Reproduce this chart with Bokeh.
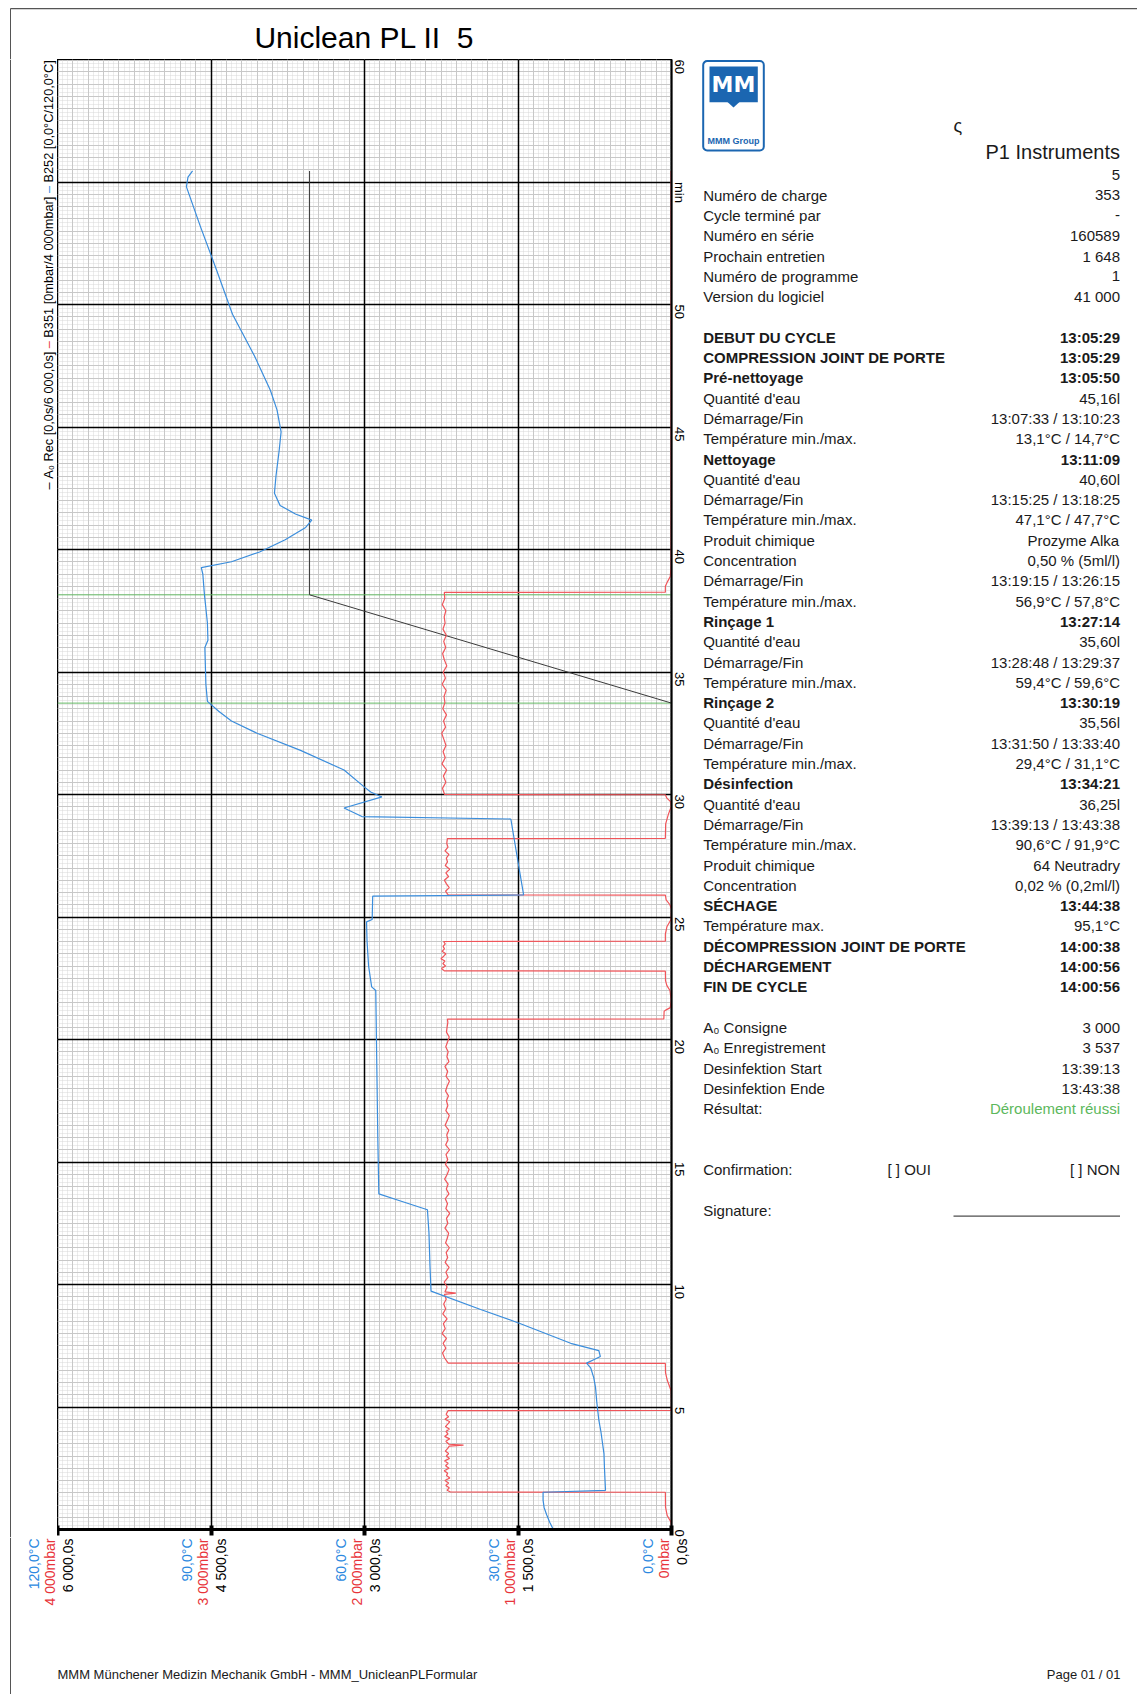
import math
from bokeh.plotting import figure
from bokeh.layouts import column, row
from bokeh.models import Range1d, LinearAxis, FixedTicker, Grid, Span
from bokeh.core.properties import value
from bokeh.embed import file_html
from bokeh.resources import INLINE

# ------------------------------------------------------------------ data
# B252 temperature (°C) against time (min)
temp_time = [0.0, 0.3, 0.6, 0.9, 1.2, 1.52, 1.6, 2.5, 3.1, 4.0, 4.46, 5.2, 5.8, 6.2, 6.6,
             6.79, 6.95, 7.06, 7.3, 7.6, 8.0, 8.4, 8.98, 9.73, 10.75, 12.1, 13.05, 13.41,
             13.7, 16.0, 19.0, 22.0, 22.15, 23.0, 24.0, 24.8, 24.9, 25.85, 25.9, 27.5, 29.0,
             29.1, 29.45, 29.9, 30.1, 30.3, 31.0, 31.8, 32.5, 33.0, 33.4, 33.8, 34.5, 36.0,
             36.3, 37.0, 38.2, 39.0, 39.26, 39.5, 39.9, 40.4, 40.9, 41.2, 41.45, 41.8, 42.3,
             43.0, 44.0, 44.8, 45.7, 46.5, 47.9, 49.6, 51.4, 53.2, 54.8, 55.2, 55.45]
temp_degc = [23.1, 23.8, 24.4, 24.9, 25.1, 25.1, 12.9, 13.1, 13.2, 13.8, 14.2, 14.6, 14.85, 15.2, 15.8,
             16.6, 15.0, 13.9, 14.2, 19.7, 24.6, 29.5, 37.3, 47.0, 47.2, 47.4, 47.7, 52.96,
             57.2, 57.4, 57.6, 57.8, 58.6, 59.2, 59.5, 59.6, 58.5, 58.4, 28.9, 30.2, 31.4,
             60.5, 64.0, 56.6, 58.8, 60.0, 64.0, 72.5, 81.0, 86.0, 88.5, 90.7, 91.0, 91.2,
             90.6, 90.7, 91.3, 91.6, 91.9, 86.0, 80.5, 75.5, 71.5, 70.3, 73.5, 76.5, 77.6,
             77.3, 76.7, 76.3, 77.1, 78.4, 81.5, 85.8, 88.9, 92.1, 94.8, 94.5, 93.6]

# B351 pressure (mbar) against time (min), one pair of lists per phase
p_idle1_t = [0.0, 0.3, 0.57, 0.91, 1.52]
p_idle1_v = [0, 3, 28, 39, 40]
p_pump1_t = [1.53, 1.6, 1.7, 1.8, 1.9, 2.0, 2.1, 2.2, 2.3, 2.4, 2.5, 2.6, 2.7, 2.8, 2.9, 3.0,
             3.1, 3.2, 3.3, 3.4, 3.44, 3.48, 3.6, 3.7, 3.8, 3.9, 4.0, 4.1, 4.2, 4.3, 4.4, 4.5,
             4.6, 4.7, 4.8, 4.85]
p_pump1_v = [1440, 1462, 1448, 1470, 1452, 1476, 1444, 1466, 1458, 1481, 1449, 1472, 1455, 1478,
             1446, 1467, 1452, 1474, 1459, 1448, 1355, 1450, 1470, 1445, 1478, 1456, 1469, 1447,
             1473, 1458, 1444, 1476, 1452, 1468, 1460, 1455]
p_idle2_t = [4.86, 5.1, 5.65, 6.1, 6.4, 6.78]
p_idle2_v = [3, 0, 2, 28, 39, 40]
p_pump2_t = [6.79, 7.0, 7.2, 7.4, 7.6, 7.8, 8.0, 8.2, 8.4, 8.6, 8.8, 9.0, 9.2, 9.4, 9.6, 9.65,
             9.7, 9.9, 10.1, 10.3, 10.5, 10.7, 10.9, 11.1, 11.3, 11.5, 11.7, 11.9, 12.1, 12.3,
             12.5, 12.7, 12.9, 13.1, 13.3, 13.5, 13.7, 13.9, 14.1, 14.3, 14.5, 14.7, 14.9, 15.1,
             15.3, 15.5, 15.7, 15.9, 16.1, 16.3, 16.5, 16.7, 16.9, 17.1, 17.3, 17.5, 17.7, 17.9,
             18.1, 18.3, 18.5, 18.7, 18.9, 19.1, 19.3, 19.5, 19.7, 19.9, 20.1, 20.3, 20.5, 20.7,
             20.83]
p_pump2_v = [1455, 1478, 1492, 1470, 1488, 1466, 1495, 1474, 1486, 1462, 1490, 1471, 1484, 1468,
             1480, 1405, 1476, 1462, 1481, 1455, 1470, 1449, 1475, 1458, 1468, 1447, 1472, 1460,
             1452, 1476, 1457, 1466, 1445, 1470, 1459, 1474, 1450, 1467, 1455, 1478, 1461, 1449,
             1473, 1458, 1469, 1446, 1471, 1456, 1464, 1451, 1475, 1460, 1448, 1470, 1457, 1466,
             1453, 1472, 1461, 1447, 1469, 1458, 1476, 1450, 1463, 1455, 1471, 1459, 1448, 1466,
             1462, 1457, 1460]
p_idle3_t = [20.84, 21.15, 21.2, 21.3, 21.6, 22.0, 22.2, 22.4, 22.79]
p_idle3_v = [50, 48, 38, 8, 2, 10, 30, 39, 40]
p_pump3_t = [22.8, 22.9, 23.0, 23.1, 23.2, 23.3, 23.4, 23.5, 23.6, 23.7, 23.8, 23.9, 24.0]
p_pump3_v = [1480, 1498, 1472, 1490, 1476, 1502, 1484, 1470, 1495, 1479, 1488, 1474, 1485]
p_idle4_t = [24.01, 24.3, 24.6, 24.9, 25.3, 25.5, 25.7, 25.89]
p_idle4_v = [40, 40, 30, 3, 0, 10, 35, 40]
p_pump4_t = [25.9, 26.05, 26.2, 26.35, 26.5, 26.65, 26.8, 26.95, 27.1, 27.25, 27.4, 27.55,
             27.7, 27.85, 28.0, 28.2]
p_pump4_v = [1455, 1472, 1448, 1466, 1480, 1452, 1470, 1445, 1474, 1459, 1467, 1450, 1476,
             1456, 1464, 1460]
p_idle5_t = [28.21, 28.8, 29.2, 29.5, 29.7, 29.85, 29.99]
p_idle5_v = [40, 38, 20, 2, 5, 30, 40]
p_pump5_t = [30.0, 30.25, 30.5, 30.75, 31.0, 31.25, 31.5, 31.75, 32.0, 32.25, 32.5, 32.75,
             33.0, 33.25, 33.5, 33.75, 34.0, 34.25, 34.5, 34.75, 35.0, 35.25, 35.5, 35.75,
             36.0, 36.25, 36.5, 36.75, 37.0, 37.25, 37.5, 37.75, 38.0, 38.25]
p_pump5_v = [1478, 1492, 1470, 1486, 1465, 1495, 1474, 1488, 1469, 1483, 1497, 1472, 1485,
             1466, 1490, 1476, 1482, 1468, 1494, 1473, 1487, 1464, 1480, 1491, 1471, 1484,
             1467, 1489, 1475, 1481, 1470, 1493, 1477, 1480]
p_idle6_t = [38.26, 38.5, 38.7, 38.9, 39.3, 55.45]
p_idle6_v = [40, 40, 25, 8, 3, 3]

# A0 record (s) against time (min)
a0_time = [0.0, 33.73, 38.15, 55.45]
a0_value = [0, 0, 3537, 3537]
# disinfection start / end (min after 13:05:29)
desinf_marks = [33.73, 38.15]

# scales and tick labels
time_ticks = [0, 5, 10, 15, 20, 25, 30, 35, 40, 45, 50, 55, 60]
temp_ticks = [0, 30, 60, 90, 120]
temp_labels = ["0,0°C", "30,0°C", "60,0°C", "90,0°C", "120,0°C"]
press_ticks = [0, 1000, 2000, 3000, 4000]
press_labels = ["0mbar", "1 000mbar", "2 000mbar", "3 000mbar", "4 000mbar"]
a0_ticks = [0, 1500, 3000, 4500, 6000]
a0_labels = ["0,0s", "1 500,0s", "3 000,0s", "4 500,0s", "6 000,0s"]

chart_title = "Uniclean PL II\u00a0 5"

# report panel
info_labels = ["", "Numéro de charge", "Cycle terminé par", "Numéro en série", "Prochain entretien",
               "Numéro de programme", "Version du logiciel", None,
               "DEBUT DU CYCLE", "COMPRESSION JOINT DE PORTE", "Pré-nettoyage", "Quantité d'eau",
               "Démarrage/Fin", "Température min./max.", "Nettoyage", "Quantité d'eau",
               "Démarrage/Fin", "Température min./max.", "Produit chimique", "Concentration",
               "Démarrage/Fin", "Température min./max.", "Rinçage 1", "Quantité d'eau",
               "Démarrage/Fin", "Température min./max.", "Rinçage 2", "Quantité d'eau",
               "Démarrage/Fin", "Température min./max.", "Désinfection", "Quantité d'eau",
               "Démarrage/Fin", "Température min./max.", "Produit chimique", "Concentration",
               "SÉCHAGE", "Température max.", "DÉCOMPRESSION JOINT DE PORTE", "DÉCHARGEMENT",
               "FIN DE CYCLE", None,
               "A₀ Consigne", "A₀ Enregistrement", "Desinfektion Start", "Desinfektion Ende",
               "Résultat:"]
info_values = ["5", "353", "-", "160589", "1 648", "1", "41 000", None,
               "13:05:29", "13:05:29", "13:05:50", "45,16l", "13:07:33 / 13:10:23",
               "13,1°C / 14,7°C", "13:11:09", "40,60l", "13:15:25 / 13:18:25", "47,1°C / 47,7°C",
               "Prozyme Alka", "0,50 % (5ml/l)", "13:19:15 / 13:26:15", "56,9°C / 57,8°C",
               "13:27:14", "35,60l", "13:28:48 / 13:29:37", "59,4°C / 59,6°C",
               "13:30:19", "35,56l", "13:31:50 / 13:33:40", "29,4°C / 31,1°C",
               "13:34:21", "36,25l", "13:39:13 / 13:43:38", "90,6°C / 91,9°C",
               "64 Neutradry", "0,02 % (0,2ml/l)", "13:44:38", "95,1°C",
               "14:00:38", "14:00:56", "14:00:56", None,
               "3 000", "3 537", "13:39:13", "13:43:38", "Déroulement réussi"]
bold_rows = {"DEBUT DU CYCLE", "COMPRESSION JOINT DE PORTE", "Pré-nettoyage", "Nettoyage",
             "Rinçage 1", "Rinçage 2", "Désinfection", "SÉCHAGE",
             "DÉCOMPRESSION JOINT DE PORTE", "DÉCHARGEMENT", "FIN DE CYCLE"}

# ------------------------------------------------------------------ styles / layout
BLUE = "#3a8ddc"
RED = "#f0555a"
BLUE_TXT = "#2b88e0"
RED_TXT = "#e8343a"
GREEN = "#64b964"
LOGO = "#1b66b1"
INK = "#1a1a1a"
FRAME_INK = "#555555"
FONT = "Liberation Sans"

PAGE_W, PAGE_H = 1137, 1694
FL, FT, FW, FH = 57, 59, 614, 1470   # plot frame on the page (px)
CH_RB = 30                      # right border of the chart (tick labels)
CH_BB = 8                       # bottom border of the chart (ticks)
ROW_H = FH + CH_BB
ROW_BOT = FT + ROW_H
RP_L = FL + FW + CH_RB          # left edge of the report panel


def blank(w, h, x0, x1, y_top, y_bot):
    f = figure(width=w, height=h, output_backend="svg", toolbar_location=None,
               x_range=Range1d(x0, x1), y_range=Range1d(y_bot, y_top),
               x_axis_location=None, y_axis_location=None, min_border=0,
               frame_align=False)
    f.grid.visible = False
    f.outline_line_color = None
    f.background_fill_color = "white"
    f.border_fill_color = "white"
    return f


def txt(f, xs, ys, texts, size="15px", bold=False, color=INK, align="left",
        angle=0.0, font=FONT, baseline="middle"):
    f.text(x=xs, y=ys, text=texts, text_font=value(font), text_font_size=size,
           text_font_style="bold" if bold else "normal", text_color=color,
           text_align=align, text_baseline=baseline, angle=angle)


# ---- top strip: page rule + chart title
top = blank(PAGE_W, FT, 0, PAGE_W, 0, FT)
top.segment(x0=[10], y0=[8.2], x1=[PAGE_W], y1=[8.2], line_color=FRAME_INK, line_width=1.2)
top.segment(x0=[10], y0=[8], x1=[10], y1=[FT], line_color=FRAME_INK, line_width=1)
txt(top, [FL + FW / 2], [37], [chart_title], size="30px", align="center", color="black")

# ---- chart
p = figure(width=FW + CH_RB, height=ROW_H, output_backend="svg", toolbar_location=None,
           x_range=Range1d(6000, 0), y_range=Range1d(0, 60),
           x_axis_location=None, y_axis_location=None,
           min_border_left=0, min_border_right=CH_RB,
           min_border_top=0, min_border_bottom=CH_BB, frame_align=False)
p.extra_x_ranges = {"temp": Range1d(120, 0), "press": Range1d(4000, 0)}
p.grid.visible = False
p.background_fill_color = "white"
p.border_fill_color = "white"
p.outline_line_color = "black"
p.outline_line_width = 1.5


def frange(a, b, step):
    out, v = [], a
    while v <= b + 1e-9:
        out.append(round(v, 6))
        v += step
    return out


def add_grid(dim, ticks, color, width, dash="solid"):
    p.add_layout(Grid(dimension=dim, ticker=FixedTicker(ticks=ticks),
                      grid_line_color=color, grid_line_width=width, grid_line_dash=dash))


add_grid(0, frange(0, 6000, 50), "#d8d8d8", 1, "1 1")
add_grid(1, frange(0, 60, 1 / 6), "#d8d8d8", 1, "1 1")
add_grid(0, frange(0, 6000, 150), "#c8c8c8", 1)
add_grid(1, frange(0, 60, 0.5), "#c8c8c8", 1)
add_grid(0, a0_ticks, "black", 1.5)
add_grid(1, time_ticks, "black", 1.5)

ay = LinearAxis(ticker=FixedTicker(ticks=time_ticks), major_label_overrides={55: "min"},
                major_label_orientation=-math.pi / 2, major_label_standoff=8,
                major_label_text_font=FONT, major_label_text_font_size="13px",
                major_label_text_color="black", axis_line_color="black", axis_line_width=2,
                major_tick_out=0, major_tick_in=0, minor_tick_out=0, minor_tick_in=0)
p.add_layout(ay, "right")
ax = LinearAxis(ticker=FixedTicker(ticks=a0_ticks), major_label_text_color=None,
                major_label_standoff=0, axis_line_color="black", axis_line_width=3,
                major_tick_line_width=4, major_tick_line_color="black",
                major_tick_out=6, major_tick_in=4, minor_tick_out=0, minor_tick_in=0)
p.add_layout(ax, "below")

press_t = (p_idle1_t + p_pump1_t + p_idle2_t + p_pump2_t + p_idle3_t + p_pump3_t +
           p_idle4_t + p_pump4_t + p_idle5_t + p_pump5_t + p_idle6_t)
press_v = (p_idle1_v + p_pump1_v + p_idle2_v + p_pump2_v + p_idle3_v + p_pump3_v +
           p_idle4_v + p_pump4_v + p_idle5_v + p_pump5_v + p_idle6_v)
for m in desinf_marks:
    p.add_layout(Span(location=m, dimension="width", line_color=GREEN, line_width=1,
                      level="underlay"))
p.line(a0_value, a0_time, line_color="#3a3a3a", line_width=1)
p.line(press_v, press_t, x_range_name="press", line_color=RED, line_width=1.2)
p.line(temp_degc, temp_time, x_range_name="temp", line_color=BLUE, line_width=1.2)

# ---- left strip: series legend (rotated)
left = blank(FL, ROW_H, 0, FL, FT, ROW_BOT)
left.segment(x0=[10], y0=[FT], x1=[10], y1=[ROW_BOT], line_color=FRAME_INK, line_width=1)
LS = 12.75
leg_y0 = FT + 430
leg_em = [0.0, 0.834, 11.073, 11.907, 23.246, 24.080]
leg_txt = ["–", "A₀ Rec [0,0s/6 000,0s]", "–", "B351 [0mbar/4 000mbar]", "–",
           "B252 [0,0°C/120,0°C]"]
leg_col = ["black", "black", RED_TXT, "black", BLUE_TXT, "black"]
left.text(x=[47.5] * 6, y=[leg_y0 - e * LS for e in leg_em], text=leg_txt,
          text_color=leg_col, text_font=value(FONT), text_font_size=f"{LS}px",
          text_align="left", text_baseline="middle", angle=math.pi / 2)

# ---- right strip: report
rp = blank(PAGE_W - RP_L, ROW_H, RP_L, PAGE_W, FT, ROW_BOT)
rp.quad(left=[702.7], right=[763.3], top=[60.5], bottom=[150], fill_color="white",
        line_color=LOGO, line_width=2, border_radius=4)
rp.quad(left=[709], right=[757.3], top=[66], bottom=[101.7], fill_color=LOGO,
        line_color=None)
rp.patch(x=[727, 739, 733], y=[101.5, 101.5, 107], fill_color=LOGO, line_color=None)
txt(rp, [733], [84], ["MM"], size="22px", bold=True, color="white", align="center",
    font="DejaVu Sans")
txt(rp, [733], [140], ["MMM Group"], size="9px", bold=True, color=LOGO, align="center")
txt(rp, [953], [125], ["ς"], size="18px")

RX_L, RX_R = 702.7, 1119.5
txt(rp, [RX_R], [151], ["P1 Instruments"], size="20px", align="right")
ROW0, STEP = 174.3, 20.3
groups = {}
for i, (lab, val) in enumerate(zip(info_labels, info_values)):
    if lab is None:
        continue
    y = ROW0 + i * STEP
    b = lab in bold_rows
    if lab:
        groups.setdefault(("L", b, INK), []).append((RX_L, y, lab))
    col = "#5cb85c" if lab == "Résultat:" else INK
    groups.setdefault(("R", b, col), []).append((RX_R, y, val))
for (side, b, col), items in groups.items():
    txt(rp, [it[0] for it in items], [it[1] for it in items], [it[2] for it in items],
        bold=b, color=col, align="left" if side == "L" else "right")

y_conf = ROW0 + 49 * STEP
y_sig = ROW0 + 51 * STEP
txt(rp, [RX_L, 887], [y_conf] * 2, ["Confirmation:", "[ ] OUI"])
txt(rp, [RX_R], [y_conf], ["[ ] NON"], align="right")
txt(rp, [RX_L], [y_sig], ["Signature:"])
rp.segment(x0=[953], y0=[y_sig + 6], x1=[RX_R], y1=[y_sig + 6], line_color="#222222",
           line_width=1)

# ---- bottom strip: rotated scale labels + footer
bot = blank(PAGE_W, PAGE_H - ROW_BOT, 0, PAGE_W, ROW_BOT, PAGE_H)


def ext_range(v_at_left, v_at_right):
    # same value-to-pixel mapping as the chart frame, stretched over the whole strip
    k = (v_at_right - v_at_left) / FW
    return Range1d(v_at_left + (0 - FL) * k, v_at_left + (PAGE_W - FL) * k)


bot.extra_x_ranges = {"temp": ext_range(120, 0), "press": ext_range(4000, 0),
                      "a0": ext_range(6000, 0)}
for ticks, labels, rng, col, dx in [(temp_ticks, temp_labels, "temp", BLUE_TXT, -24),
                                    (press_ticks, press_labels, "press", RED_TXT, -8),
                                    (a0_ticks, a0_labels, "a0", "black", 10)]:
    bot.text(x=ticks, y=[ROW_BOT + 1] * len(ticks), text=labels, x_range_name=rng,
             x_offset=dx, angle=math.pi / 2, text_align="right", text_baseline="middle",
             text_color=col, text_font=value(FONT), text_font_size="14px")
bot.segment(x0=[10], y0=[ROW_BOT], x1=[10], y1=[PAGE_H], line_color=FRAME_INK, line_width=1)
txt(bot, [FL], [1674], ["MMM Münchener Medizin Mechanik GmbH - MMM_UnicleanPLFormular"],
    size="13px")
txt(bot, [1120], [1674], ["Page 01 / 01"], size="13px", align="right")

layout = column(top, row(left, p, rp), bot)
open("out.html", "w").write(file_html(layout, INLINE))
